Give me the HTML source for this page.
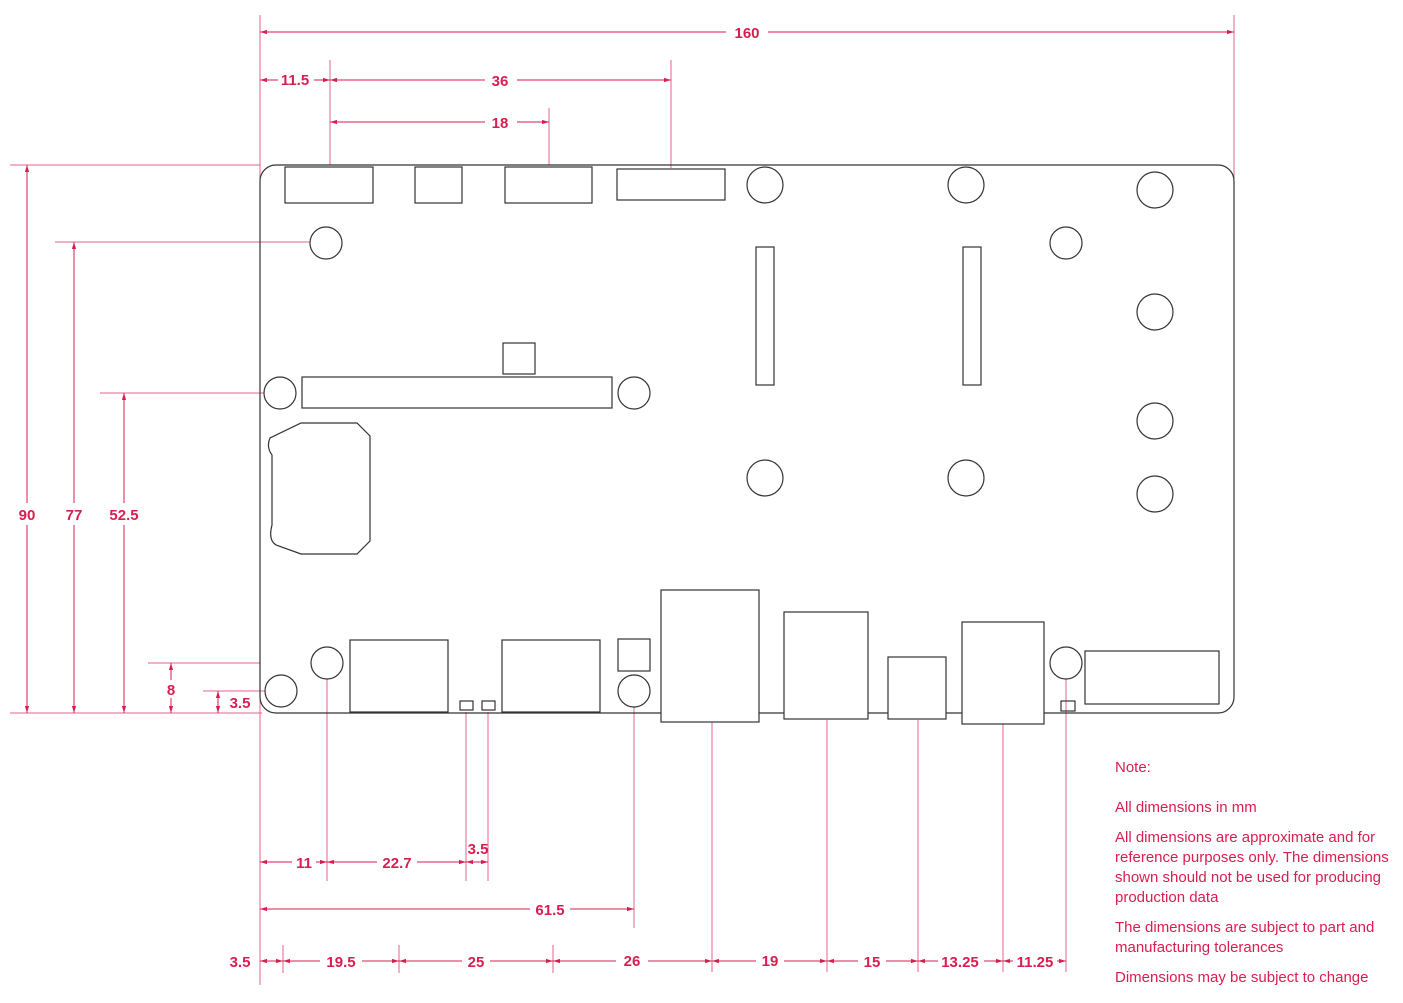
<!DOCTYPE html>
<html><head><meta charset="utf-8"><style>
html,body{margin:0;padding:0;background:#fff;}
svg{display:block;}
.d{font-family:"Liberation Sans",sans-serif;font-weight:bold;font-size:15px;fill:#d81e50;text-anchor:middle;}
.n{font-family:"Liberation Sans",sans-serif;font-size:15px;fill:#d81e50;}
</style></head><body>
<svg width="1403" height="1003" viewBox="0 0 1403 1003" xmlns="http://www.w3.org/2000/svg">
<defs>
<marker id="a" viewBox="0 0 10 10" refX="10" refY="5" markerWidth="7" markerHeight="7" orient="auto-start-reverse" markerUnits="userSpaceOnUse"><path d="M0,2 L10,5 L0,8 z" fill="#d81e50"/></marker>
</defs>
<!-- extension lines -->
<g stroke="#e8628a" stroke-width="1" fill="none">
<line x1="260" y1="15" x2="260" y2="985"/>
<line x1="1234" y1="15" x2="1234" y2="185"/>
<line x1="330" y1="60" x2="330" y2="165"/>
<line x1="671" y1="60" x2="671" y2="168"/>
<line x1="549" y1="108" x2="549" y2="165"/>
<line x1="10" y1="165" x2="260" y2="165"/>
<line x1="10" y1="713" x2="262" y2="713"/>
<line x1="55" y1="242" x2="310" y2="242"/>
<line x1="100" y1="393" x2="264" y2="393"/>
<line x1="148" y1="663" x2="260" y2="663"/>
<line x1="203" y1="691" x2="265" y2="691"/>
<line x1="327" y1="679" x2="327" y2="881"/>
<line x1="466" y1="712" x2="466" y2="881"/>
<line x1="488" y1="712" x2="488" y2="881"/>
<line x1="634" y1="707" x2="634" y2="928"/>
<line x1="283" y1="945" x2="283" y2="973"/>
<line x1="399" y1="945" x2="399" y2="973"/>
<line x1="553" y1="945" x2="553" y2="973"/>
<line x1="712" y1="722" x2="712" y2="972"/>
<line x1="827" y1="720" x2="827" y2="972"/>
<line x1="918" y1="720" x2="918" y2="972"/>
<line x1="1003" y1="724" x2="1003" y2="972"/>
<line x1="1066" y1="679" x2="1066" y2="972"/>
</g>
<!-- dimension lines -->
<g stroke="#d81e50" stroke-width="1" fill="none" marker-start="url(#a)" marker-end="url(#a)">
<line x1="260" y1="32" x2="1234" y2="32"/>
<line x1="260" y1="80" x2="330" y2="80"/>
<line x1="330" y1="80" x2="671" y2="80"/>
<line x1="330" y1="122" x2="549" y2="122"/>
<line x1="27" y1="165" x2="27" y2="713"/>
<line x1="74" y1="242" x2="74" y2="713"/>
<line x1="124" y1="393" x2="124" y2="713"/>
<line x1="171" y1="663" x2="171" y2="713"/>
<line x1="218" y1="691" x2="218" y2="713"/>
<line x1="260" y1="862" x2="327" y2="862"/>
<line x1="327" y1="862" x2="466" y2="862"/>
<line x1="466" y1="862" x2="488" y2="862"/>
<line x1="260" y1="909" x2="634" y2="909"/>
<line x1="260" y1="961" x2="283" y2="961"/>
<line x1="283" y1="961" x2="399" y2="961"/>
<line x1="399" y1="961" x2="553" y2="961"/>
<line x1="553" y1="961" x2="712" y2="961"/>
<line x1="712" y1="961" x2="827" y2="961"/>
<line x1="827" y1="961" x2="918" y2="961"/>
<line x1="918" y1="961" x2="1003" y2="961"/>
<line x1="1003" y1="961" x2="1066" y2="961"/>
</g>
<!-- label backgrounds -->
<g fill="#fff">
<rect x="726" y="22" width="42" height="20"/>
<rect x="278" y="70" width="36" height="20"/>
<rect x="485" y="70" width="32" height="20"/>
<rect x="485" y="112" width="32" height="20"/>
<rect x="14" y="503" width="26" height="22"/>
<rect x="62" y="503" width="24" height="22"/>
<rect x="106" y="503" width="36" height="22"/>
<rect x="164" y="680" width="14" height="18"/>
<rect x="292" y="852" width="24" height="20"/>
<rect x="377" y="852" width="40" height="20"/>
<rect x="530" y="899" width="40" height="20"/>
<rect x="320" y="951" width="42" height="20"/>
<rect x="462" y="951" width="28" height="20"/>
<rect x="616" y="951" width="32" height="20"/>
<rect x="756" y="951" width="28" height="20"/>
<rect x="858" y="951" width="28" height="20"/>
<rect x="938" y="951" width="46" height="20"/>
<rect x="1013" y="951" width="44" height="20"/>
</g>
<g class="d">
<text x="747" y="38">160</text>
<text x="295" y="85">11.5</text>
<text x="500" y="86">36</text>
<text x="500" y="128">18</text>
<text x="27" y="520">90</text>
<text x="74" y="520">77</text>
<text x="124" y="520">52.5</text>
<text x="171" y="695">8</text>
<text x="240" y="708">3.5</text>
<text x="304" y="868">11</text>
<text x="397" y="868">22.7</text>
<text x="478" y="854">3.5</text>
<text x="550" y="915">61.5</text>
<text x="240" y="967">3.5</text>
<text x="341" y="967">19.5</text>
<text x="476" y="967">25</text>
<text x="632" y="966">26</text>
<text x="770" y="966">19</text>
<text x="872" y="967">15</text>
<text x="960" y="967">13.25</text>
<text x="1035" y="967">11.25</text>
</g>
<!-- board -->
<g stroke="#333" stroke-width="1.2" fill="none">
<rect x="260" y="165" width="974" height="548" rx="16"/>
<rect x="285" y="167" width="88" height="36"/>
<rect x="415" y="167" width="47" height="36"/>
<rect x="505" y="167" width="87" height="36"/>
<rect x="617" y="169" width="108" height="31"/>
<circle cx="765" cy="185" r="18"/>
<circle cx="966" cy="185" r="18"/>
<circle cx="1155" cy="190" r="18"/>
<circle cx="1066" cy="243" r="16"/>
<circle cx="326" cy="243" r="16"/>
<circle cx="1155" cy="312" r="18"/>
<circle cx="1155" cy="421" r="18"/>
<circle cx="1155" cy="494" r="18"/>
<circle cx="765" cy="478" r="18"/>
<circle cx="966" cy="478" r="18"/>
<circle cx="280" cy="393" r="16"/>
<circle cx="634" cy="393" r="16"/>
<circle cx="327" cy="663" r="16"/>
<circle cx="281" cy="691" r="16"/>
<circle cx="634" cy="691" r="16"/>
<circle cx="1066" cy="663" r="16"/>
<rect x="756" y="247" width="18" height="138"/>
<rect x="963" y="247" width="18" height="138"/>
<rect x="302" y="377" width="310" height="31"/>
<rect x="503" y="343" width="32" height="31"/>
<path d="M301,423 L357,423 L370,436 L370,541 L357,554 L301,554 L276,545 Q268,540 272,525 L272,455 Q266,447 270,438 Z"/>
<rect x="350" y="640" width="98" height="72"/>
<rect x="502" y="640" width="98" height="72"/>
<rect x="618" y="639" width="32" height="32"/>
<rect x="661" y="590" width="98" height="132" fill="#fff"/>
<rect x="784" y="612" width="84" height="107" fill="#fff"/>
<rect x="888" y="657" width="58" height="62" fill="#fff"/>
<rect x="962" y="622" width="82" height="102" fill="#fff"/>
<rect x="1085" y="651" width="134" height="53"/>
<rect x="460" y="701" width="13" height="9"/>
<rect x="482" y="701" width="13" height="9"/>
<rect x="1061" y="701" width="14" height="10"/>
</g>
<g class="n">
<text x="1115" y="772">Note:</text>
<text x="1115" y="812">All dimensions in mm</text>
<text x="1115" y="842">All dimensions are approximate and for</text>
<text x="1115" y="862">reference purposes only. The dimensions</text>
<text x="1115" y="882">shown should not be used for producing</text>
<text x="1115" y="902">production data</text>
<text x="1115" y="932">The dimensions are subject to part and</text>
<text x="1115" y="952">manufacturing tolerances</text>
<text x="1115" y="982">Dimensions may be subject to change</text>
</g>
</svg>
</body></html>
